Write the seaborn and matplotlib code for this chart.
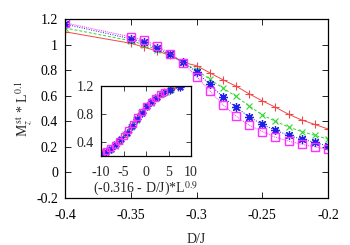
import matplotlib
matplotlib.use("Agg")
import matplotlib.pyplot as plt
import seaborn as sns
import numpy as np
from matplotlib.ticker import FuncFormatter

# ---- data ----
dj = [-0.40, -0.35, -0.34, -0.33, -0.32, -0.31, -0.30, -0.29, -0.28,
      -0.27, -0.26, -0.25, -0.24, -0.23, -0.22, -0.21, -0.20]
m_red = [1.10, 1.01, 0.98, 0.95, 0.915, 0.86, 0.835, 0.78, 0.725,
         0.675, 0.615, 0.56, 0.51, 0.455, 0.41, 0.375, 0.34]
m_green = [1.13, 1.03, 1.00, 0.96, 0.92, 0.86, 0.80, 0.73, 0.66,
           0.595, 0.52, 0.45, 0.40, 0.355, 0.32, 0.29, 0.26]
m_blue = [1.16, 1.045, 1.02, 0.97, 0.925, 0.86, 0.785, 0.69, 0.59,
          0.51, 0.435, 0.375, 0.33, 0.29, 0.26, 0.235, 0.205]
m_magenta = [1.17, 1.06, 1.035, 0.99, 0.93, 0.855, 0.75, 0.64, 0.53,
             0.44, 0.37, 0.32, 0.275, 0.245, 0.22, 0.20, 0.18]

# inset (scaled) data
ix_red = [-9.8, -8.7, -7.5, -6.4, -5.2, -4.1, -3.0, -1.9, -0.8, 0.4, 1.6, 2.8, 4.1, 5.6, 7.2]
iy_red = [0.24, 0.27, 0.32, 0.385, 0.465, 0.55, 0.65, 0.75, 0.835, 0.925, 1.0, 1.06, 1.11, 1.15, 1.18]
ix_green = [-9.5, -8.2, -7.0, -5.8, -4.6, -3.4, -2.3, -1.2, -0.1, 1.0, 2.2, 3.4, 4.5, 5.6]
iy_green = [0.245, 0.29, 0.35, 0.42, 0.51, 0.61, 0.71, 0.81, 0.895, 0.96, 1.03, 1.08, 1.12, 1.15]
ix_blue = [-10.0, -8.9, -7.8, -6.6, -5.5, -4.3, -3.2, -2.1, -1.0, 0.2, 1.3, 2.5, 3.8, 5.3, 7.6]
iy_blue = [0.23, 0.26, 0.30, 0.37, 0.44, 0.53, 0.63, 0.73, 0.82, 0.91, 0.98, 1.045, 1.10, 1.14, 1.18]
ix_magenta = [-9.9, -9.0, -8.0, -7.0, -6.0, -5.0, -4.0, -3.0, -2.0, -1.0, 0.0, 1.0, 2.0, 3.0, 4.0]
iy_magenta = [0.24, 0.27, 0.31, 0.36, 0.42, 0.49, 0.57, 0.66, 0.75, 0.83, 0.91, 0.97, 1.03, 1.08, 1.12]

main_xticks = [-0.4, -0.35, -0.3, -0.25, -0.2]
main_yticks = [-0.2, 0, 0.2, 0.4, 0.6, 0.8, 1.0, 1.2]
inset_xticks = [-10, -5, 0, 5, 10]
inset_yticks = [0.4, 0.8, 1.2]

# ---- style ----
sns.set_style("ticks")
plt.rcParams["font.family"] = ["Liberation Serif", "DejaVu Serif"]
plt.rcParams["mathtext.fontset"] = "stix"
plt.rcParams["axes.unicode_minus"] = False
plt.rcParams["font.size"] = 10

C_RED = "#f04848"
C_GREEN = "#30d830"
C_BLUE = "#2020e8"
C_MAG = "#ff30ff"
STAR = (8, 2, 0)

styles = [
    dict(color=C_RED, marker="+", linestyle="-", ms=6, mew=0.8),
    dict(color=C_GREEN, marker="x", linestyle=(0, (3, 2)), ms=5, mew=0.8),
    dict(color=C_BLUE, marker=STAR, linestyle=(0, (1, 1.5)), ms=6.5, mew=0.9),
    dict(color=C_MAG, marker="s", linestyle=(0, (1, 1)), ms=5.5, mew=1.0, mfc="none"),
]

fig = plt.figure(figsize=(3.5, 2.45), dpi=100)
ax = fig.add_axes([65/350, 1-198/245, (328-65)/350, (198-19)/245])

fmt = FuncFormatter(lambda v, p: "%g" % round(v, 4))

for ys, st in zip([m_red, m_green, m_blue, m_magenta], styles):
    sns.lineplot(x=dj, y=ys, ax=ax, lw=0.7, mec=st["color"], **st)

ax.set_xlim(-0.4, -0.2)
ax.set_ylim(-0.2, 1.2)
ax.set_xticks(main_xticks)
ax.set_yticks(main_yticks)
ax.xaxis.set_major_formatter(fmt)
ax.yaxis.set_major_formatter(fmt)
ax.tick_params(direction="in", top=True, right=True, length=4, width=0.6,
               labelsize=10, colors="black")
ax.tick_params(axis="x", pad=8)
ax.tick_params(axis="y", pad=5)
for s in ax.spines.values():
    s.set_linewidth(0.9)
    s.set_color("black")
ax.set_xlabel("D/J", fontsize=10, labelpad=8)
ax.set_ylabel(r"M$_z^{\,\mathrm{st}}$ * L$^{0.1}$", fontsize=10, labelpad=2)

# ---- inset ----
ins = fig.add_axes([101/350, 1-156/245, (191-101)/350, (156-86)/245])
for xs, ys, st in zip([ix_red, ix_green, ix_blue, ix_magenta],
                      [iy_red, iy_green, iy_blue, iy_magenta], styles):
    st2 = dict(st)
    st2["ms"] = st["ms"] * 0.85
    sns.lineplot(x=xs, y=ys, ax=ins, lw=0.6, mec=st["color"], **st2)
ins.set_xlim(-10, 10)
ins.set_ylim(0.2, 1.2)
ins.set_xticks(inset_xticks)
ins.set_yticks(inset_yticks)
ins.xaxis.set_major_formatter(fmt)
ins.yaxis.set_major_formatter(fmt)
ins.tick_params(direction="in", top=True, right=True, length=3.5, width=0.6,
                labelsize=10)
ins.tick_params(axis="x", pad=7)
ins.tick_params(axis="y", pad=5)
for s in ins.spines.values():
    s.set_linewidth(0.9)
    s.set_color("black")
ins.set_xlabel(r"(-0.316 - D/J)*L$^{0.9}$", fontsize=10, labelpad=1)
ins.set_ylabel("")

fig.savefig("out.png", dpi=100)
